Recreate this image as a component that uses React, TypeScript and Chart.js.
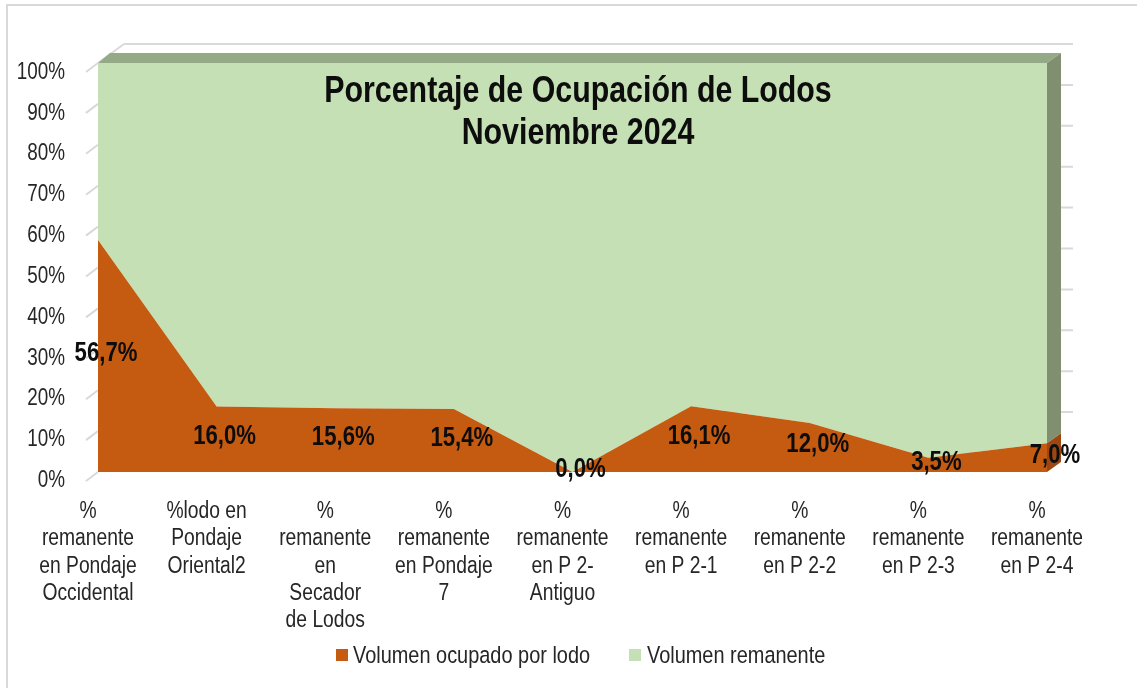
import React, { useEffect, useRef } from "react";
import { Chart, registerables } from "chart.js";

Chart.register(...registerables);

const categories: string[][] = [
  ["%", "remanente", "en Pondaje", "Occidental"],
  ["%lodo en", "Pondaje", "Oriental2"],
  ["%", "remanente", "en", "Secador", "de Lodos"],
  ["%", "remanente", "en Pondaje", "7"],
  ["%", "remanente", "en P 2-", "Antiguo"],
  ["%", "remanente", "en P 2-1"],
  ["%", "remanente", "en P 2-2"],
  ["%", "remanente", "en P 2-3"],
  ["%", "remanente", "en P 2-4"],
];
const lodo: number[] = [56.7, 16.0, 15.6, 15.4, 0.0, 16.1, 12.0, 3.5, 7.0];
const remanente: number[] = lodo.map((v) => +(100 - v).toFixed(1));
const yTicks: number[] = [0, 10, 20, 30, 40, 50, 60, 70, 80, 90, 100];
const titleLines: string[] = ["Porcentaje de Ocupación de Lodos", "Noviembre 2024"];
const seriesNames: string[] = ["Volumen ocupado por lodo", "Volumen remanente"];

const ORANGE = "#C55A11";
const ORANGE_SIDE = "#9C4710";
const GREEN = "#C5E0B4";
const GREEN_TOP = "#94AA86";
const GREEN_SIDE = "#7F8F70";
const GRID = "#D9D9D9";
const FONT = "'Liberation Sans', Arial, sans-serif";
const SX = 0.82;

function txt(
  ctx: CanvasRenderingContext2D,
  s: string,
  x: number,
  y: number,
  size: number,
  bold: boolean,
  align: CanvasTextAlign,
  color: string
) {
  ctx.save();
  ctx.translate(x, y);
  ctx.scale(SX, 1);
  ctx.font = `${bold ? "bold " : ""}${size}px ${FONT}`;
  ctx.textAlign = align;
  ctx.textBaseline = "alphabetic";
  ctx.fillStyle = color;
  ctx.fillText(s, 0, 0);
  ctx.restore();
}

const fmt = (v: number) => v.toFixed(1).replace(".", ",") + "%";

const decor = {
  id: "decor3d",
  beforeDatasetsDraw(chart: any) {
    const ctx: CanvasRenderingContext2D = chart.ctx;
    const { left, right, top, bottom } = chart.chartArea;
    const y = chart.scales.y;
    ctx.save();
    ctx.strokeStyle = GRID;
    ctx.lineWidth = 2;
    ctx.strokeRect(7, 5, 1300, 900);
    const bdx = 26;
    const bdy = -19;
    for (const v of yTicks) {
      const py = y.getPixelForValue(v) + bdy;
      ctx.beginPath();
      ctx.moveTo(left + bdx, py);
      ctx.lineTo(right + bdx, py);
      ctx.stroke();
    }
    ctx.beginPath();
    ctx.moveTo(left, top);
    ctx.lineTo(left + bdx, top + bdy);
    ctx.stroke();
    for (const v of yTicks) {
      const py = y.getPixelForValue(v);
      ctx.beginPath();
      ctx.moveTo(left - 12, py + 9);
      ctx.lineTo(left, py);
      ctx.stroke();
    }
    for (const v of yTicks) {
      const py = bottom + 15 - (bottom - y.getPixelForValue(v)) * 0.998;
      txt(ctx, v + "%", 65, py, 23, false, "right", "#262626");
    }
    ctx.restore();
  },
  afterDatasetsDraw(chart: any) {
    const ctx: CanvasRenderingContext2D = chart.ctx;
    const { left, right, top, bottom } = chart.chartArea;
    const x = chart.scales.x;
    const y = chart.scales.y;
    const dx = 14;
    const dy = -10;
    ctx.save();
    ctx.fillStyle = GREEN_TOP;
    ctx.beginPath();
    ctx.moveTo(left, top);
    ctx.lineTo(right, top);
    ctx.lineTo(right + dx, top + dy);
    ctx.lineTo(left + dx - 2, top + dy);
    ctx.closePath();
    ctx.fill();
    const last = lodo.length - 1;
    const yl = y.getPixelForValue(lodo[last]);
    ctx.fillStyle = GREEN_SIDE;
    ctx.beginPath();
    ctx.moveTo(right, top);
    ctx.lineTo(right + dx, top + dy);
    ctx.lineTo(right + dx, yl + dy);
    ctx.lineTo(right, yl);
    ctx.closePath();
    ctx.fill();
    ctx.fillStyle = ORANGE_SIDE;
    ctx.beginPath();
    ctx.moveTo(right, yl);
    ctx.lineTo(right + dx, yl + dy);
    ctx.lineTo(right + dx, bottom + dy);
    ctx.lineTo(right, bottom);
    ctx.closePath();
    ctx.fill();
    lodo.forEach((v, i) => {
      const px = x.getPixelForValue(i);
      const mid = (y.getPixelForValue(v) + y.getPixelForValue(0)) / 2;
      txt(ctx, fmt(v), px + 8, mid + 5, 27, true, "center", "#0D0D0D");
    });
    const cx = 578;
    txt(ctx, titleLines[0], cx, 102, 37, true, "center", "#0D0D0D");
    txt(ctx, titleLines[1], cx, 144, 37, true, "center", "#0D0D0D");
    categories.forEach((lines, i) => {
      const px = x.getPixelForValue(i);
      const lx = px - 10;
      lines.forEach((s, k) => {
        txt(ctx, s, lx, 518 + k * 27.3, 23.5, false, "center", "#262626");
      });
    });
    ctx.fillStyle = ORANGE;
    ctx.fillRect(336, 649, 12, 12);
    txt(ctx, seriesNames[0], 353, 663, 24.3, false, "left", "#262626");
    ctx.fillStyle = GREEN;
    ctx.fillRect(629, 649, 12, 12);
    txt(ctx, seriesNames[1], 647, 663, 24.3, false, "left", "#262626");
    ctx.restore();
  },
};

export default function App() {
  const ref = useRef<HTMLCanvasElement | null>(null);
  useEffect(() => {
    if (!ref.current) return;
    const chart = new Chart(ref.current, {
      type: "line",
      data: {
        labels: categories.map((c) => c.join(" ")),
        datasets: [
          {
            label: seriesNames[0],
            data: lodo,
            backgroundColor: ORANGE,
            borderColor: ORANGE,
            borderWidth: 0,
            pointRadius: 0,
            fill: "origin",
            tension: 0,
          },
          {
            label: seriesNames[1],
            data: remanente,
            backgroundColor: GREEN,
            borderColor: GREEN,
            borderWidth: 0,
            pointRadius: 0,
            fill: "-1",
            tension: 0,
          },
        ],
      },
      options: {
        animation: false,
        responsive: false,
        maintainAspectRatio: false,
        layout: { padding: { left: 98, right: 90, top: 63, bottom: 216 } },
        plugins: {
          legend: { display: false },
          title: { display: false },
          tooltip: { enabled: false },
        },
        scales: {
          x: { type: "category", display: false, offset: false },
          y: { display: false, stacked: true, min: 0, max: 100 },
        },
      },
      plugins: [decor],
    });
    return () => chart.destroy();
  }, []);
  return (
    <div style={{ position: "fixed", left: 0, top: 0, width: 1137, height: 688, background: "#fff" }}>
      <canvas ref={ref} width={1137} height={688} style={{ width: 1137, height: 688, display: "block" }} />
    </div>
  );
}
